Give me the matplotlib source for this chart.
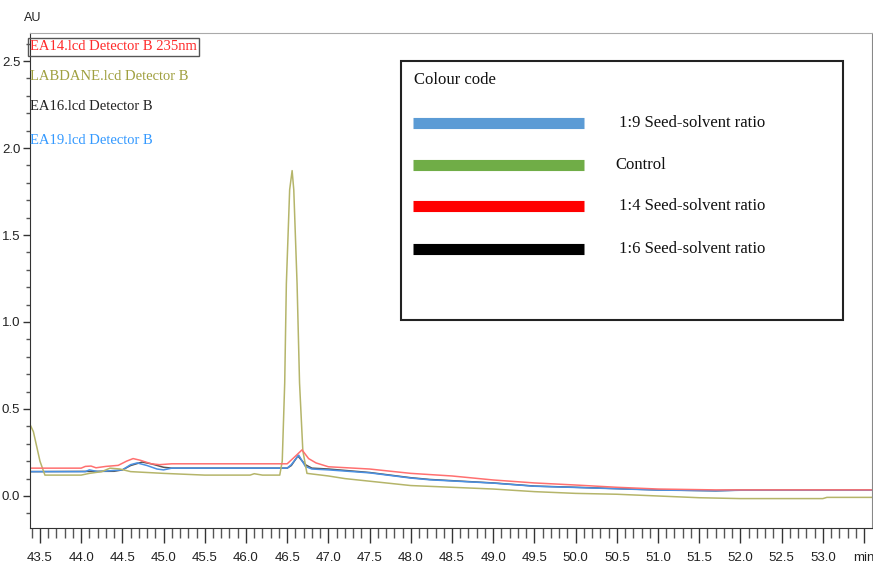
import numpy as np
import matplotlib
matplotlib.use("Agg")
from matplotlib import pyplot as plt
from matplotlib.lines import Line2D
from matplotlib.patches import Rectangle
from matplotlib.ticker import MultipleLocator, FixedLocator, FixedFormatter

# retention time (min) / absorbance (AU) points
# EA14 (red, 1:4 seed-solvent ratio)
ea14_x = [43.38, 44.0, 44.05, 44.12, 44.18, 44.3, 44.45, 44.55, 44.63, 44.72, 44.85, 44.95,
          45.1, 46.5, 46.58, 46.68, 46.76, 46.85, 47.0, 47.5, 48.0, 48.5, 49.0, 49.5,
          50.0, 50.5, 51.0, 51.7, 52.5, 53.2, 53.6]
ea14_y = [0.16, 0.16, 0.17, 0.172, 0.162, 0.17, 0.176, 0.20, 0.215, 0.205, 0.185, 0.18,
          0.185, 0.185, 0.22, 0.265, 0.215, 0.19, 0.168, 0.155, 0.13, 0.115, 0.092, 0.075,
          0.063, 0.05, 0.04, 0.035, 0.035, 0.035, 0.035]

# LABDANE (olive, control)
lab_x = [43.38, 43.42, 43.5, 43.56, 44.0, 44.1, 44.25, 44.35, 44.47, 44.6, 44.8, 45.0, 45.5,
         46.05, 46.1, 46.2, 46.41, 46.44, 46.47, 46.49, 46.53, 46.56, 46.58, 46.62, 46.65,
         46.69, 46.74, 47.0, 47.2, 47.6, 48.0, 48.5, 49.0, 49.5, 50.0, 50.5, 51.0, 51.5,
         52.0, 53.0, 53.05, 53.6]
lab_y = [0.41, 0.37, 0.2, 0.12, 0.12, 0.13, 0.14, 0.16, 0.155, 0.14, 0.135, 0.13, 0.12,
         0.12, 0.128, 0.12, 0.12, 0.2, 0.65, 1.22, 1.76, 1.87, 1.76, 1.22, 0.65,
         0.26, 0.13, 0.115, 0.10, 0.08, 0.06, 0.05, 0.04, 0.025, 0.015, 0.01, 0.0, -0.01,
         -0.015, -0.015, -0.008, -0.008]

# EA16 (black, 1:6 seed-solvent ratio)
ea16_x = [43.38, 44.4, 44.5, 44.6, 44.74, 44.85, 45.0, 45.1, 46.5, 46.55, 46.63, 46.72,
          46.8, 47.0, 47.5, 48.0, 48.23, 49.0, 49.5, 50.0, 51.0, 51.7, 52.0, 53.6]
ea16_y = [0.14, 0.142, 0.15, 0.175, 0.195, 0.185, 0.165, 0.16, 0.16, 0.175, 0.23, 0.18,
          0.16, 0.155, 0.135, 0.105, 0.095, 0.075, 0.057, 0.05, 0.035, 0.03, 0.034, 0.034]

# EA19 (blue, 1:9 seed-solvent ratio)
ea19_x = [43.38, 44.05, 44.1, 44.2, 44.5, 44.6, 44.68, 44.8, 44.92, 45.0, 45.1, 46.5,
          46.55, 46.64, 46.72, 46.8, 47.0, 47.5, 48.0, 48.23, 49.0, 49.5, 50.0, 51.0,
          51.7, 52.0, 53.6]
ea19_y = [0.14, 0.14, 0.15, 0.14, 0.15, 0.18, 0.19, 0.175, 0.155, 0.15, 0.16, 0.16,
          0.18, 0.235, 0.17, 0.155, 0.15, 0.133, 0.103, 0.093, 0.074, 0.056, 0.049, 0.034,
          0.03, 0.033, 0.033]

file_labels = ["EA14.lcd Detector B 235nm", "LABDANE.lcd Detector B",
               "EA16.lcd Detector B", "EA19.lcd Detector B"]
file_colors = ["#ff2a2a", "#a0a040", "#222222", "#3399ff"]

code_labels = ["1:9 Seed-solvent ratio", "Control", "1:4 Seed-solvent ratio", "1:6 Seed-solvent ratio"]
code_colors = ["#5b9bd5", "#70ad47", "#ff0000", "#000000"]

x_ticks = np.arange(43.5, 53.51, 0.5)
x_tick_labels = ["%.1f" % t for t in x_ticks[:-1]] + ["min"]

W, H = 873, 563


def px(x, y):
    # pixel position in the picture -> figure fraction
    return x / W, 1 - y / H


narrow = ["Liberation Sans Narrow", "Liberation Sans", "DejaVu Sans"]
serif = ["Liberation Serif", "DejaVu Serif"]

fig = plt.figure(figsize=(W / 100, H / 100), dpi=100)
ax = fig.add_axes([30 / W, 1 - 528 / H, 842 / W, 495 / H])

ax.plot(ea16_x, ea16_y, color="#555555", linewidth=1.1)
ax.plot(ea19_x, ea19_y, color="#4a90e2", linewidth=1.1)
ax.plot(lab_x, lab_y, color="#b5b56a", linewidth=1.1)
ax.plot(ea14_x, ea14_y, color="#ff7070", linewidth=1.1)

ax.set_xlim(43.379, 53.597)
ax.set_ylim(-0.184, 2.661)

ax.xaxis.set_major_locator(FixedLocator(x_ticks))
ax.xaxis.set_major_formatter(FixedFormatter(x_tick_labels))
ax.xaxis.set_minor_locator(MultipleLocator(0.1))
ax.yaxis.set_major_locator(MultipleLocator(0.5))
ax.yaxis.set_minor_locator(MultipleLocator(0.1))
ax.tick_params(axis="x", which="major", direction="out", length=11, width=1, color="#333333", pad=6)
ax.tick_params(axis="x", which="minor", direction="out", length=7, width=1, color="#555555")
ax.tick_params(axis="y", which="major", direction="out", length=5, width=1, color="#333333", pad=2)
ax.tick_params(axis="y", which="minor", direction="out", length=3, width=1, color="#555555")
for lab in ax.get_xticklabels() + ax.get_yticklabels():
    lab.set_family(narrow)
    lab.set_fontsize(9.5)
    lab.set_color("#222222")

ax.spines["left"].set_color("#333333")
ax.spines["bottom"].set_color("#333333")
ax.spines["top"].set_color("#aaaaaa")
ax.spines["right"].set_color("#888888")

fig.text(*px(24, 18), "AU", family=narrow, fontsize=9, color="#222222", va="center")

# file names at top left
name_y = [47, 77, 106, 140]
for i in range(len(file_labels)):
    kw = {}
    if i == 0:
        kw["bbox"] = dict(boxstyle="square,pad=0.15", facecolor="none", edgecolor="#555555", linewidth=1)
    fig.text(*px(30, name_y[i]), file_labels[i], family=serif, fontsize=10.5,
             color=file_colors[i], va="center", ha="left", **kw)

# colour code box
x0, y0 = px(401, 320)
x1, y1 = px(843, 61)
fig.add_artist(Rectangle((x0, y0), x1 - x0, y1 - y0, transform=fig.transFigure,
                         facecolor="white", edgecolor="#222222", linewidth=1.5))
fig.text(*px(414, 80), "Colour code", family=serif, fontsize=12, color="#111111", va="center")
row_y = [123, 165, 206, 249]
label_x = [619, 615, 619, 619]
for i in range(len(code_labels)):
    lx0, ly = px(413, row_y[i])
    lx1, _ = px(584, row_y[i])
    fig.add_artist(Line2D([lx0, lx1], [ly, ly], transform=fig.transFigure,
                          color=code_colors[i], linewidth=8, solid_capstyle="butt"))
    fig.text(*px(label_x[i], row_y[i]), code_labels[i], family=serif, fontsize=12,
             color="#111111", va="center")

fig.savefig("out.png", dpi=100)
